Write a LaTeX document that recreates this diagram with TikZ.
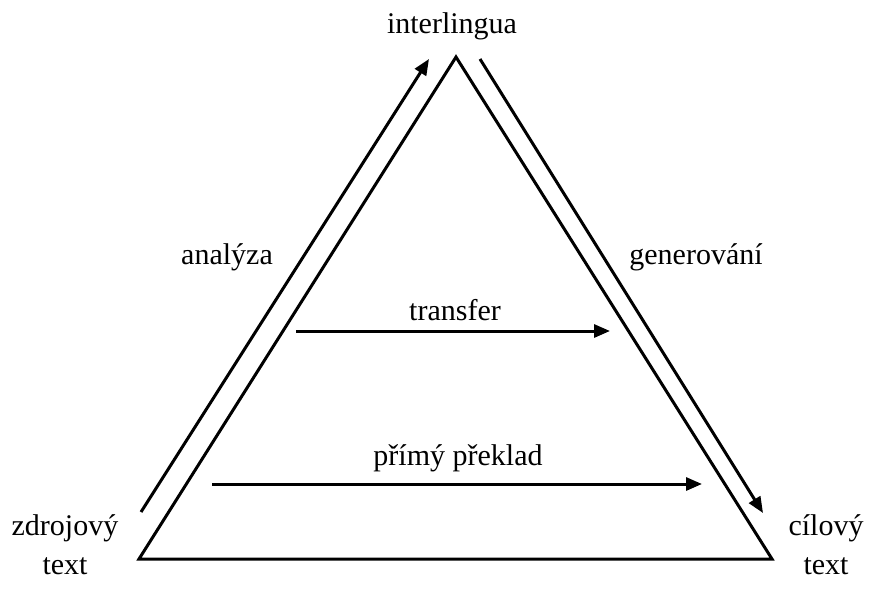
\documentclass[tikz,border=0pt]{standalone}
\usepackage{fontspec}
\setmainfont{Liberation Serif}
\usetikzlibrary{arrows.meta}
\begin{document}
\begin{tikzpicture}[x=0.5pt,y=-0.5pt,
  lbl/.style={font=\fontsize{15}{19.5}\selectfont, inner sep=0pt, align=center},
  edge/.style={line width=1.5pt},
  arr/.style={line width=1.5pt, -{Triangle[length=8pt,width=6.5pt]}}]
\useasboundingbox (0,0) rectangle (871,594);
\coordinate (A) at (456,57);
\coordinate (L) at (139,559);
\coordinate (R) at (772,559);
\draw[edge, line join=miter] (A) -- (L) -- (R) -- cycle;
\coordinate (a1) at (141,512);
\coordinate (a2) at (429,59);
\draw[arr] (a1) -- (a2);
\coordinate (g1) at (480,59);
\coordinate (g2) at (763,513);
\draw[arr] (g1) -- (g2);
\coordinate (t1) at (296,331);
\coordinate (t2) at (610,331);
\draw[arr] (t1) -- (t2);
\coordinate (p1) at (212,484);
\coordinate (p2) at (702,484);
\draw[arr] (p1) -- (p2);
\node[lbl] (inter) at (452,26) {interlingua};
\node[lbl] (anal) at (227,257) {analýza};
\node[lbl] (gen) at (696,257) {generování};
\node[lbl] (trans) at (455,310) {transfer};
\node[lbl] (prim) at (458,458) {přímý překlad};
\node[lbl] (zdroj) at (65,545) {zdrojový\\text};
\node[lbl] (cil) at (826,545) {cílový\\text};
\end{tikzpicture}
\end{document}
